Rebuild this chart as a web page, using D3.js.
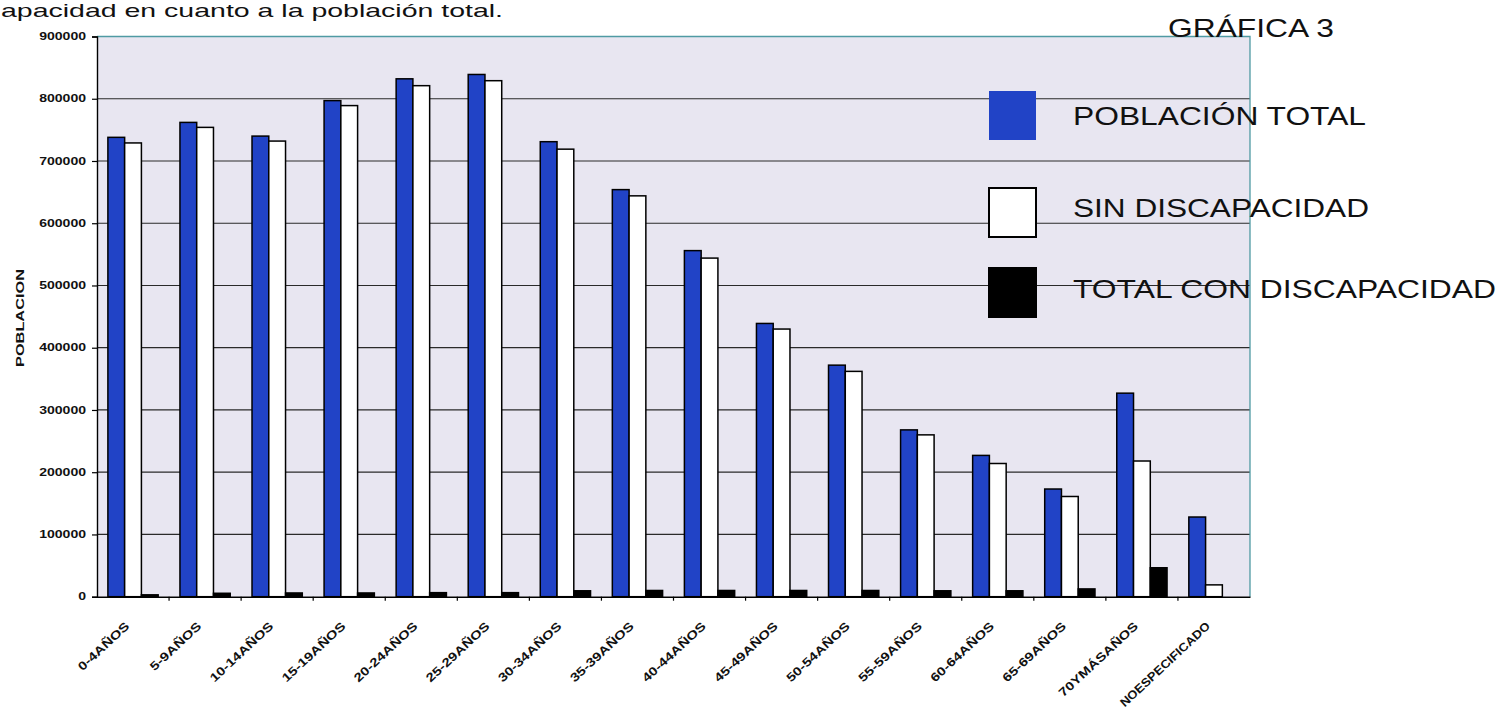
<!DOCTYPE html>
<html>
<head>
<meta charset="utf-8">
<script src="https://cdn.jsdelivr.net/npm/d3@7"></script>
<style>
  html, body { margin: 0; padding: 0; background: #ffffff; }
  svg { display: block; font-family: "Liberation Sans", Arial, sans-serif; }
</style>
</head>
<body>
<svg id="chart" width="1504" height="711"></svg>
<script>
// ---- data ----
const categories = ["0-4AÑOS","5-9AÑOS","10-14AÑOS","15-19AÑOS","20-24AÑOS","25-29AÑOS","30-34AÑOS","35-39AÑOS","40-44AÑOS","45-49AÑOS","50-54AÑOS","55-59AÑOS","60-64AÑOS","65-69AÑOS","70YMÁSAÑOS","NOESPECIFICADO"];
const seriesNames = ["POBLACIÓN TOTAL","SIN DISCAPACIDAD","TOTAL CON DISCAPACIDAD"];
const poblacionTotal = [738000,762000,740000,797000,832000,839000,731000,654000,556000,439000,372000,268000,227000,173000,327000,128000];
const sinDiscapacidad = [729000,754000,732000,789000,821000,829000,719000,644000,544000,430000,362000,260000,214000,161000,218000,19000];
const conDiscapacidad = [3000,5500,6000,6000,6500,6500,9500,10000,10000,10000,10000,9500,9500,12500,46500,0];
const yTicks = [0,100000,200000,300000,400000,500000,600000,700000,800000,900000];
const seriesColors = ["#2143c6","#ffffff","#000000"];

const svg = d3.select("#chart");
const L = 97, R = 1250, T = 36.5, B = 596.7;

const x0 = d3.scaleBand().domain(categories).range([L, R]).padding(0);
const x1 = d3.scaleBand().domain(seriesNames).range([0, x0.bandwidth()]).paddingInner(0).paddingOuter(0.65);
const y = d3.scaleLinear().domain([0, 900000]).range([B, T]);
const color = d3.scaleOrdinal().domain(seriesNames).range(seriesColors);

// top text
svg.append("text").attr("x", 1).attr("y", 17)
  .attr("font-size", 19).attr("fill", "#111")
  .attr("textLength", 502).attr("lengthAdjust", "spacingAndGlyphs")
  .text("apacidad en cuanto a la población total.");

// plot background
svg.append("rect").attr("x", L).attr("y", T).attr("width", R - L).attr("height", B - T)
  .attr("fill", "#e8e6f1");

// gridlines
svg.append("g").selectAll("line").data(yTicks.filter(d => d > 0 && d < 900000)).join("line")
  .attr("x1", L).attr("x2", R).attr("y1", d => y(d)).attr("y2", d => y(d))
  .attr("stroke", "#2a2a2a").attr("stroke-width", 1.2);

// teal top/right border
svg.append("path").attr("d", `M${L},${T}H${R}V${B}`).attr("fill", "none")
  .attr("stroke", "#4f9aa3").attr("stroke-width", 1.3);

// bars
const rows = categories.map((c, i) => ({ cat: c, vals: [poblacionTotal[i], sinDiscapacidad[i], conDiscapacidad[i]] }));
const gGroups = svg.append("g").selectAll("g").data(rows).join("g")
  .attr("transform", d => `translate(${x0(d.cat)},0)`);
gGroups.selectAll("rect").data(d => d.vals.map((v, k) => ({ key: seriesNames[k], v })).filter(e => e.v > 0)).join("rect")
  .attr("x", d => x1(d.key)).attr("width", x1.bandwidth())
  .attr("y", d => y(d.v)).attr("height", d => y(0) - y(d.v))
  .attr("fill", d => color(d.key)).attr("stroke", "#000").attr("stroke-width", 1.5);

// y axis
const yAxis = svg.append("g").attr("transform", `translate(${L},0)`)
  .call(d3.axisLeft(y).tickValues(yTicks).tickSize(5).tickPadding(6).tickFormat(d => String(d)));
yAxis.select(".domain").attr("stroke", "#000").attr("stroke-width", 1.4);
yAxis.selectAll(".tick line").attr("stroke", "#000").attr("stroke-width", 1.2);
yAxis.selectAll(".tick text").attr("font-size", 10).attr("font-weight", "bold").attr("fill", "#111")
  .attr("font-family", "'Liberation Sans', Arial, sans-serif")
  .each(function(d) { const s = String(d); this.setAttribute("textLength", s.length * 7.8); this.setAttribute("lengthAdjust", "spacingAndGlyphs"); });

// x axis
const xAxis = svg.append("g").attr("transform", `translate(0,${B})`)
  .call(d3.axisBottom(x0).tickSize(0).tickFormat(""));
xAxis.select(".domain").attr("stroke", "#000").attr("stroke-width", 1.4);
// boundary ticks between groups
svg.append("g").selectAll("line").data(categories.slice(1)).join("line")
  .attr("x1", d => x0(d)).attr("x2", d => x0(d)).attr("y1", B).attr("y2", B + 4)
  .attr("stroke", "#000").attr("stroke-width", 1.2);

// x labels
svg.append("g").selectAll("text").data(categories).join("text")
  .attr("transform", d => `translate(${x0(d) + x0.bandwidth() / 2 - 9},${B + 24}) rotate(-43)`)
  .attr("text-anchor", "end").attr("dominant-baseline", "hanging")
  .attr("font-size", 12).attr("font-weight", "bold").attr("fill", "#111")
  .text(d => d)
  .each(function() { const len = this.getComputedTextLength(); this.setAttribute("textLength", Math.min(len * 1.25, 118)); this.setAttribute("lengthAdjust", "spacingAndGlyphs"); });

// y title
svg.append("text").attr("transform", `translate(24,318) rotate(-90)`)
  .attr("text-anchor", "middle").attr("font-size", 10).attr("font-weight", "900").attr("fill", "#111")
  .attr("textLength", 98).attr("lengthAdjust", "spacingAndGlyphs")
  .text("POBLACION");

// chart label
svg.append("text").attr("x", 1168).attr("y", 36.5).attr("font-size", 26).attr("fill", "#111")
  .attr("textLength", 166).attr("lengthAdjust", "spacingAndGlyphs").text("GRÁFICA 3");

// legend
const legendY = [91, 188, 268];
const legendBaseline = [125, 217, 298];
const legendLen = [293, 296, 423];
const lg = svg.append("g");
seriesNames.forEach((s, i) => {
  lg.append("rect").attr("x", 989).attr("y", legendY[i]).attr("width", 47).attr("height", 49)
    .attr("fill", color(s)).attr("stroke", i === 0 ? "none" : "#000").attr("stroke-width", 2);
  lg.append("text").attr("x", 1073).attr("y", legendBaseline[i]).attr("font-size", 26).attr("fill", "#111")
    .attr("textLength", legendLen[i]).attr("lengthAdjust", "spacingAndGlyphs").text(s);
});
</script>
</body>
</html>
